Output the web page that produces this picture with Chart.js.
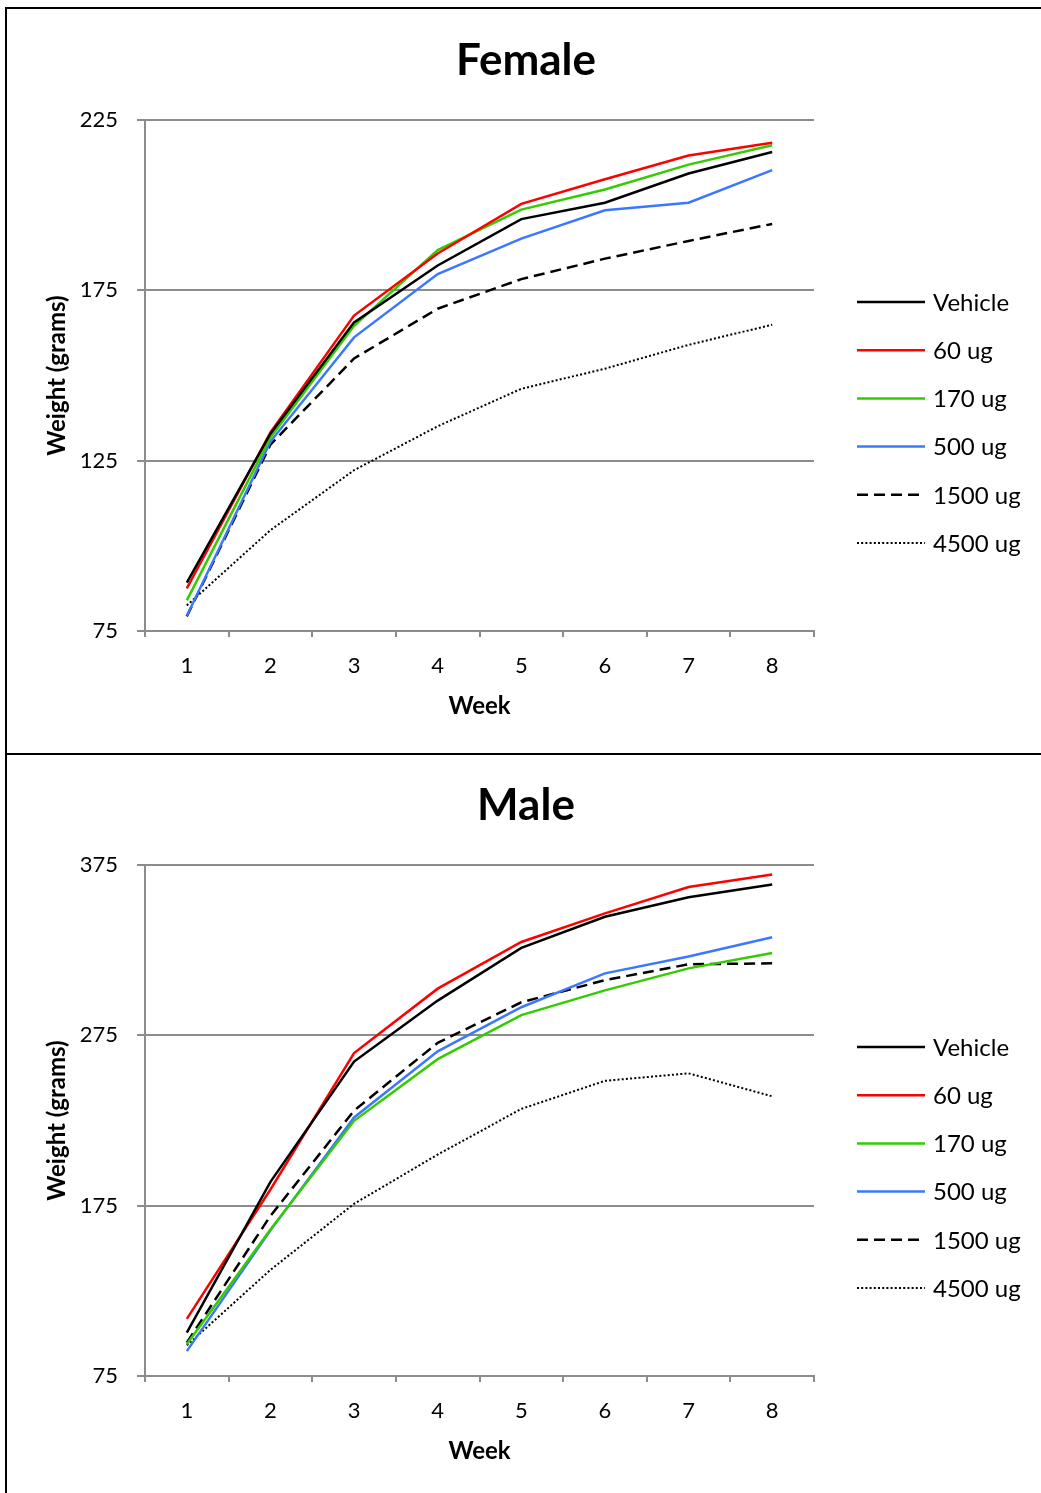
<!DOCTYPE html>
<html>
<head>
<meta charset="utf-8">
<script src="https://cdn.jsdelivr.net/npm/chart.js@4.4.0/dist/chart.umd.min.js"></script>
<style>
html, body { margin: 0; padding: 0; background: #fff; overflow: hidden; width: 1041px; height: 1493px; position: relative; }
.panel { position: absolute; left: 5px; width: 1100px; border: 2px solid #000; box-sizing: border-box; }
#p1 { top: 7px; height: 748px; }
#p2 { top: 753px; height: 800px; }
.wrap { position: absolute; left: 0; width: 1041px; height: 753px; }
#w1 { top: 0; }
#w2 { top: 745px; }
</style>
</head>
<body>
<div class="panel" id="p1"></div>
<div class="panel" id="p2"></div>
<div class="wrap" id="w1"><canvas id="female" width="1041" height="753"></canvas></div>
<div class="wrap" id="w2"><canvas id="male" width="1041" height="753"></canvas></div>
<script>
const weeks = ['1', '2', '3', '4', '5', '6', '7', '8'];
const doseLabels = ['Vehicle', '60 ug', '170 ug', '500 ug', '1500 ug', '4500 ug'];

// female body weight (grams)
const femaleVehicle = [89.2, 132.9, 165.6, 182.3, 195.9, 200.7, 209.3, 215.6];
const female60 = [87.5, 133.3, 167.6, 185.8, 200.4, 207.6, 214.6, 218.3];
const female170 = [84.0, 131.8, 164.6, 186.8, 198.7, 204.6, 211.9, 217.6];
const female500 = [79.5, 130.6, 161.2, 179.8, 190.2, 198.5, 200.7, 210.3];
const female1500 = [79.3, 129.7, 155.0, 169.6, 178.3, 184.3, 189.5, 194.5];
const female4500 = [82.5, 104.6, 122.2, 135.1, 146.1, 152.0, 159.0, 164.9];
const femaleTicks = [75, 125, 175, 225];

// male body weight (grams)
const maleVehicle = [100.5, 189.0, 259.6, 295.4, 326.3, 344.6, 356.1, 363.5];
const male60 = [108.5, 184.5, 264.6, 302.4, 329.8, 346.6, 362.1, 369.4];
const male170 = [93.6, 161.0, 224.8, 261.0, 286.9, 301.4, 314.3, 323.3];
const male500 = [89.6, 160.5, 226.8, 265.6, 291.5, 311.4, 321.3, 332.6];
const male1500 = [94.6, 169.0, 230.8, 270.6, 294.4, 307.4, 316.7, 317.3];
const male4500 = [93.0, 137.3, 176.1, 205.0, 231.8, 248.3, 252.7, 239.2];
const maleTicks = [75, 175, 275, 375];

const lineColors = ['#000000', '#ff0000', '#33cc00', '#3b78ff', '#000000', '#000000'];
const lineDashes = [[], [], [], [], [11, 6], [2, 2.2]];
const lineWidths = [2.5, 2.5, 2.5, 2.5, 2.5, 2];

Chart.defaults.font.family = 'Lato, "Open Sans", sans-serif';
Chart.defaults.color = '#000';

// title and right-hand legend, drawn from the dataset styles
const panelText = {
    id: 'panelText',
    afterDraw(chart, args, opts) {
        const ctx = chart.ctx;
        const area = chart.chartArea;
        ctx.save();
        ctx.fillStyle = '#000';
        ctx.textAlign = 'center';
        ctx.textBaseline = 'alphabetic';
        ctx.font = 'bold 44px Lato';
        ctx.fillText(opts.title, opts.titleX, opts.titleY);
        ctx.font = '24px Lato';
        ctx.textAlign = 'left';
        ctx.textBaseline = 'middle';
        chart.data.datasets.forEach((ds, i) => {
            const y = area.top + opts.legendTop + i * opts.legendGap;
            ctx.strokeStyle = ds.borderColor;
            ctx.lineWidth = ds.borderWidth;
            ctx.setLineDash(ds.borderDash);
            ctx.beginPath();
            ctx.moveTo(opts.legendX, y);
            ctx.lineTo(opts.legendX + opts.legendLine, y);
            ctx.stroke();
            ctx.setLineDash([]);
            ctx.fillText(ds.label, opts.legendX + opts.legendLine + 8, y + 1);
        });
        ctx.restore();
    }
};

function makeChart(id, title, ticks, series) {
    const ctx = document.getElementById(id).getContext('2d');
    return new Chart(ctx, {
        type: 'line',
        data: {
            labels: weeks,
            datasets: series.map((values, i) => ({
                label: doseLabels[i],
                data: values,
                borderColor: lineColors[i],
                borderDash: lineDashes[i],
                borderWidth: lineWidths[i],
                pointRadius: 0,
                tension: 0,
                fill: false
            }))
        },
        options: {
            responsive: false,
            animation: false,
            layout: { padding: { top: 120, right: 227, left: 0, bottom: 0 } },
            scales: {
                x: {
                    offset: true,
                    grid: { offset: true, drawOnChartArea: false, drawTicks: true, tickLength: 6, color: '#8c8c8c', lineWidth: 2 },
                    border: { color: '#8c8c8c', width: 2 },
                    ticks: { font: { size: 22 }, padding: 16, color: '#000' },
                    title: { display: true, text: 'Week', font: { size: 24, weight: 'bold' }, padding: { top: 0, bottom: 32.5 } },
                    afterFit: (scale) => { scale.height = 122; }
                },
                y: {
                    min: ticks[0],
                    max: ticks[ticks.length - 1],
                    ticks: { stepSize: ticks[1] - ticks[0], font: { size: 22 }, padding: 19, color: '#000' },
                    grid: { color: '#8c8c8c', lineWidth: 2, tickLength: 8 },
                    border: { color: '#8c8c8c', width: 2 },
                    title: { display: true, text: 'Weight (grams)', font: { size: 24, weight: 'bold' }, padding: { top: 42.5, bottom: 0 } },
                    afterFit: (scale) => { scale.width = 145; }
                }
            },
            plugins: {
                legend: { display: false },
                title: { display: false },
                tooltip: { enabled: false },
                panelText: { title: title, titleX: 526, titleY: 75, legendX: 857, legendLine: 68, legendTop: 182, legendGap: 48.2 }
            }
        },
        plugins: [panelText]
    });
}

makeChart('female', 'Female', femaleTicks,
    [femaleVehicle, female60, female170, female500, female1500, female4500]);
makeChart('male', 'Male', maleTicks,
    [maleVehicle, male60, male170, male500, male1500, male4500]);
</script>
</body>
</html>
